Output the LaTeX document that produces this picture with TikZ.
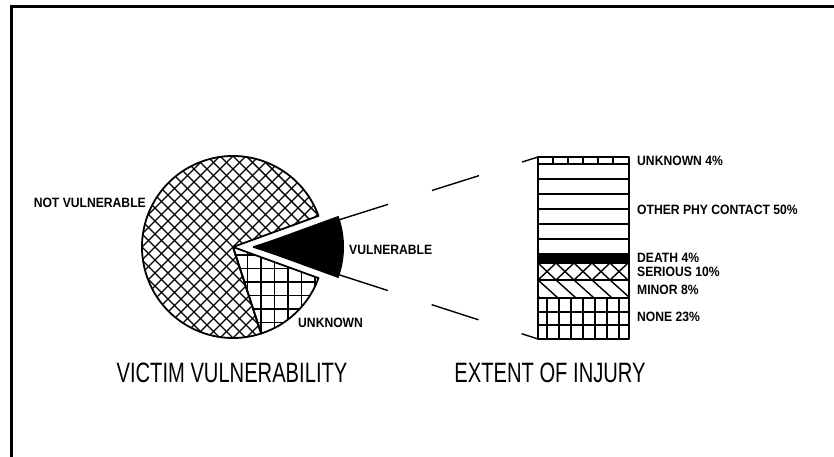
\documentclass[tikz,border=0pt]{standalone}
\usepackage{fontspec}
\setmainfont{Liberation Sans}
\newfontfamily\labfont{Liberation Sans}[FakeStretch=0.9]
\newfontfamily\titlefont{Liberation Sans}[FakeStretch=0.72]
\usepackage{tikz}
\usetikzlibrary{calc}
\definecolor{ink}{HTML}{000000}
\definecolor{paper}{HTML}{FFFFFF}
\tikzset{
  base/.style={draw=ink, line width=1.8pt, line join=round},
  hatch/.style={draw=ink, line width=1.4pt},
  frame/.style={draw=ink, line width=3pt},
  link/.style={draw=ink, line width=1.4pt, dash pattern={on 141.6pt off 46.1pt on 49.3pt off 45.1pt}},
  lab/.style={text=ink, font=\labfont\bfseries\fontsize{13.5}{14}\selectfont, inner sep=0pt},
  ttl/.style={text=ink, font=\titlefont\fontsize{28}{30}\selectfont, inner sep=0pt},
}

\begin{document}
\begin{tikzpicture}[x=1pt,y=1pt]
  \useasboundingbox (0,0) rectangle (834,457);
  \def\r{91}
  \def\bx{538}
  \def\bw{91}
  \coordinate (C) at (233,210);
  \coordinate (V) at (253,210);
  \coordinate (barNW) at (\bx,300);
  \coordinate (barSW) at (\bx,118);
  \coordinate (barNE) at (\bx+\bw,300);

  % frame
  \draw[frame] (11,0) -- (11,450) -- (834,450);

  % pie: not vulnerable
  \begin{scope}
    \clip (C) -- ++(20:\r) arc (20:288:\r) -- cycle;
    \foreach \k in {-221,-208,...,221}{
      \draw[hatch] ($(C)+(\k-110,-110)$) -- ++(220,220);
      \draw[hatch] ($(C)+(\k+110,-110)$) -- ++(-220,220);
    }
  \end{scope}
  \draw[base] (C) -- ++(20:\r) arc (20:288:\r) -- cycle;

  % pie: unknown
  \begin{scope}
    \clip (C) -- ++(288:\r) arc (288:340:\r) -- cycle;
    \foreach \k in {0,13.5,...,100}{
      \draw[hatch] ($(C)+(\k+1,-100)$) -- ++(0,100);
      \draw[hatch] ($(C)+(0,-\k-8)$) -- ++(100,0);
    }
  \end{scope}
  \draw[base] (C) -- ++(288:\r) arc (288:340:\r) -- cycle;

  % pie: vulnerable, pulled out
  \fill[ink] (V) -- ++(-20:\r) arc (-20:20:\r) -- cycle;
  \draw[link] (V) -- (barNW);
  \draw[link] (V) -- (barSW);

  % bar: none
  \begin{scope}
    \clip (barSW) rectangle (\bx+\bw,159);
    \foreach \k in {9,21,...,90}
      \draw[hatch] (\bx+\k,118) -- ++(0,41);
    \foreach \k in {132,145}
      \draw[hatch] (\bx,\k) -- ++(\bw,0);
  \end{scope}
  % bar: minor
  \begin{scope}
    \clip (\bx,159) rectangle (\bx+\bw,177);
    \foreach \k in {-18,0,...,90}
      \draw[hatch] (\bx+\k,177) -- ++(20,-18);
  \end{scope}
  % bar: serious
  \begin{scope}
    \clip (\bx,177) rectangle (\bx+\bw,194);
    \foreach \k in {-18,0,...,90}{
      \draw[hatch] (\bx+\k,177) -- ++(18,17);
      \draw[hatch] (\bx+\k+18,177) -- ++(-18,17);
    }
  \end{scope}
  % bar: death
  \fill[ink] (\bx,194) rectangle (\bx+\bw,203);
  % bar: other contact
  \foreach \i in {1,...,5}
    \draw[hatch] (\bx,203+15*\i) -- ++(\bw,0);
  % bar: unknown
  \foreach \k in {15,30,...,80}
    \draw[ink, line width=2.5pt] (\bx+\k,293) -- ++(0,7);
  \foreach \k in {159,177,194,203,293}
    \draw[base] (\bx,\k) -- ++(\bw,0);
  \draw[base] (barSW) rectangle (barNE);

  % labels
  \node[lab, anchor=east] (lNot) at (146,254) {NOT VULNERABLE};
  \node[lab, anchor=west] (lVul) at (349,207) {VULNERABLE};
  \node[lab, anchor=west] (lPieUnk) at (298,134) {UNKNOWN};
  \node[lab, anchor=west] (lUnk) at (637,296) {UNKNOWN 4\%};
  \node[lab, anchor=west] (lOther) at (637,247) {OTHER PHY CONTACT 50\%};
  \node[lab, anchor=west] (lDeath) at (637,199) {DEATH 4\%};
  \node[lab, anchor=west] (lSer) at (637,185) {SERIOUS 10\%};
  \node[lab, anchor=west] (lMin) at (637,167) {MINOR 8\%};
  \node[lab, anchor=west] (lNone) at (637,140) {NONE 23\%};
  \node[ttl] (tVic) at (232,84) {VICTIM VULNERABILITY};
  \node[ttl] (tExt) at (550,84) {EXTENT OF INJURY};
\end{tikzpicture}
\end{document}
